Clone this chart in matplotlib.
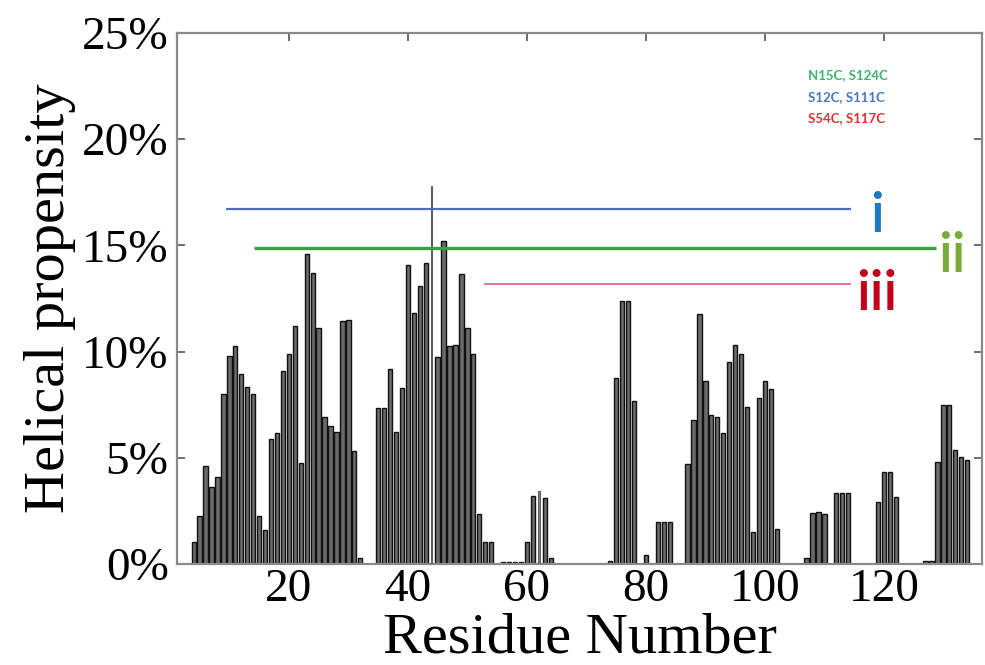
"""Helical propensity per residue with the three crosslink spans."""
import matplotlib

matplotlib.use("Agg")
import matplotlib.pyplot as plt
import numpy as np

# residue -> helical propensity (%), residues 1..134
propensity = [
    0, 0, 0, 1.04, 2.24, 4.6, 3.61, 4.08, 8.0, 9.8,
    10.25, 8.96, 8.32, 7.98, 2.24, 1.59, 5.9, 6.18, 9.07, 9.9,
    11.2, 4.75, 14.6, 13.7, 11.1, 6.9, 6.5, 6.2, 11.45, 11.5,
    5.3, 0.26, 0, 0, 7.35, 7.35, 9.2, 6.2, 8.3, 14.1,
    11.8, 13.1, 14.15, 17.8, 9.75, 15.2, 10.25, 10.3, 13.65, 11.1,
    9.9, 2.37, 1.04, 1.04, 0, 0.1, 0.1, 0.1, 0.1, 1.04,
    3.2, 3.45, 3.1, 0.3, 0, 0, 0, 0, 0, 0,
    0, 0, 0, 0.15, 8.75, 12.4, 12.4, 7.65, 0, 0.42,
    0, 2.0, 2.0, 2.0, 0, 0, 4.7, 6.8, 11.75, 8.6,
    7.0, 6.9, 6.15, 9.5, 10.3, 9.9, 7.4, 1.5, 7.8, 8.6,
    8.25, 1.67, 0, 0, 0, 0, 0.26, 2.4, 2.45, 2.35,
    0, 3.33, 3.33, 3.33, 0, 0, 0, 0, 2.9, 4.35,
    4.35, 3.15, 0, 0, 0, 0, 0.15, 0.15, 4.78, 7.5,
    7.5, 5.37, 5.06, 4.9,
]
residues = np.arange(1, len(propensity) + 1)
thin_residues = [44, 62]

# crosslink spans: (label, start residue, end residue, level %)
span_labels = ["i", "ii", "iii"]
span_start = [9.5, 14.2, 52.8]
span_end = [114.5, 128.8, 114.5]
span_level = [16.7, 14.9, 13.2]
label_x = [118.8, 131.4, 118.8]
label_y = [16.4, 14.5, 12.7]

pair_names = ["N15C, S124C", "S12C, S111C", "S54C, S117C"]
pair_y = [23.0, 22.0, 21.0]

line_colors = ["#4f6fb8", "#3c9c44", "#e0506a"]
label_colors = ["#1f78c1", "#7aab3c", "#c00018"]
pair_colors = ["#3cb371", "#4a78c0", "#e53030"]

fig = plt.figure(figsize=(9.85, 6.65), dpi=100)
ax = fig.add_axes([0.1797, 0.1519, 0.8173, 0.7985])

values = np.array(propensity)
regular = ~np.isin(residues, thin_residues)
ax.bar(residues[regular], values[regular], width=0.72, color="#6a6a6a",
       edgecolor="#111111", linewidth=1.0, zorder=2)
thin = np.isin(residues, thin_residues)
ax.bar(residues[thin], values[thin], width=0.25, color="#808080",
       edgecolor="#5a5a5a", linewidth=0.7, zorder=3)

widths = [1.6, 2.4, 1.1]
for start, end, level, color, lw in zip(span_start, span_end, span_level, line_colors, widths):
    ax.hlines(level, start, end, color=color, linewidth=lw, zorder=4)
for text, x, y, color in zip(span_labels, label_x, label_y, label_colors):
    ax.text(x, y, text, color=color, fontsize=40, family="Lato", fontweight="semibold",
            ha="center", va="center", zorder=5)
for text, y, color in zip(pair_names, pair_y, pair_colors):
    ax.text(107.2, y, text, color=color, fontsize=9.5, family="Lato", fontweight="bold",
            ha="left", va="center")

ax.set_xlim(1.2, 136.5)
ax.set_ylim(0, 25)
ax.set_xticks([20, 40, 60, 80, 100, 120])
ax.set_yticks([0, 5, 10, 15, 20, 25])
ax.set_yticklabels([f"{v}%" for v in [0, 5, 10, 15, 20, 25]])
ax.tick_params(direction="in", length=6, width=1.2, color="#555555",
               top=True, right=True, labelsize=34, pad=6)
ax.tick_params(axis="x", pad=3)
for label in ax.get_xticklabels() + ax.get_yticklabels():
    label.set_family("Liberation Serif")
for spine in ax.spines.values():
    spine.set_color("#8a8a8a")
    spine.set_linewidth(1.6)

ax.set_xlabel("Residue Number", fontsize=42, family="Liberation Serif", labelpad=1)
ax.set_ylabel("Helical propensity", fontsize=42, family="Liberation Serif", labelpad=4)

fig.savefig("out.png", dpi=100, facecolor="white")
